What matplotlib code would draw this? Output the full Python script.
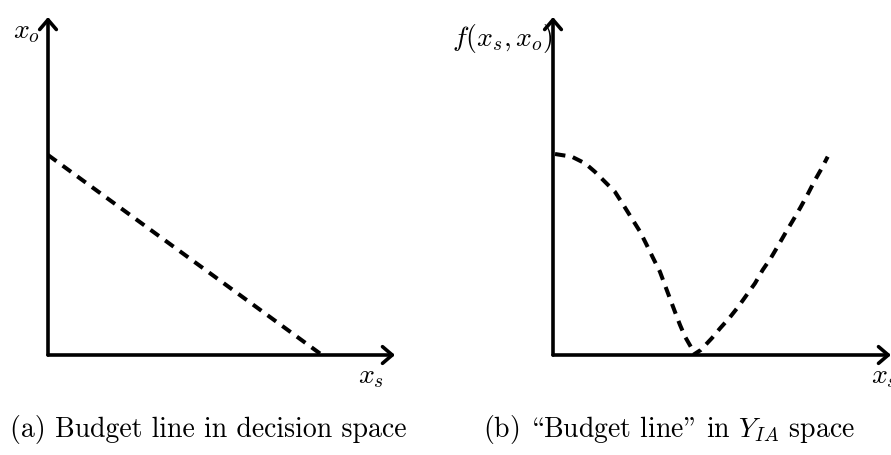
import numpy as np
import matplotlib.pyplot as plt

plt.rcParams['mathtext.fontset'] = 'cm'

# budget line in decision space (x_s, x_o)
budget_xs = [0.0, 8.18]
budget_xo = [5.97, 0.0]

# same budget line mapped to f(x_s, x_o)
curve_xs = [0.06, 0.56, 0.96, 1.25, 1.55, 1.85, 2.10, 2.35, 2.60, 2.80, 2.99,
            3.19, 3.34, 3.49, 3.64, 3.79, 3.94, 4.14, 4.18,
            4.41, 4.74, 4.99, 5.26, 5.53, 5.78, 6.03, 6.26, 6.50, 6.73,
            6.96, 7.17, 7.39, 7.62, 7.82, 8.02, 8.20]
curve_f = [6.00, 5.92, 5.72, 5.47, 5.17, 4.87, 4.48, 4.08, 3.68, 3.28, 2.89,
           2.49, 2.09, 1.69, 1.29, 0.90, 0.55, 0.20, 0.0,
           0.15, 0.50, 0.80, 1.10, 1.44, 1.79, 2.14, 2.54, 2.89, 3.28,
           3.68, 4.03, 4.41, 4.83, 5.22, 5.57, 5.92]

# cmr10 is OT1 encoded: '\' gives the opening double quote, '"' the closing one
captions = ["(a) Budget line in decision space",
            "(b) \\Budget line\" in $Y_{IA}$ space"]

W, H = 891, 455
PX = 33.5  # pixels per data unit

fig = plt.figure(figsize=(W / 100, H / 100), dpi=100)


def make_axes(x0, y0, w, h):
    ax = fig.add_axes([x0 / W, 1 - y0 / H, w / W, h / H])
    ax.set_xlim(0, w / PX)
    ax.set_ylim(0, h / PX)
    ax.axis('off')
    arrow = dict(arrowstyle='->,head_length=0.7,head_width=0.6', lw=2.6,
                 color='black', shrinkA=0, shrinkB=0)
    ax.annotate('', xy=(1, 0), xytext=(0, 0), xycoords='axes fraction',
                arrowprops=arrow, annotation_clip=False)
    ax.annotate('', xy=(0, 1), xytext=(0, 0), xycoords='axes fraction',
                arrowprops=arrow, annotation_clip=False)
    return ax


dash = dict(color='black', lw=2.9, ls=(0, (2.6, 1.9)), solid_joinstyle='round')

ax1 = make_axes(48, 355, 347, 338)
ax1.plot(budget_xs, budget_xo, **dash)
ax1.text(-0.022, 0.96, '$x_o$', transform=ax1.transAxes, ha='right', va='center', fontsize=20)
ax1.text(0.93, -0.062, '$x_s$', transform=ax1.transAxes, ha='center', va='center', fontsize=20)

ax2 = make_axes(553, 355, 338, 338)
ax2.plot(curve_xs, curve_f, **dash)
ax2.text(0.0, 0.935, '$f(x_s,x_o)$', transform=ax2.transAxes, ha='right', va='center', fontsize=20)
ax2.text(0.98, -0.062, '$x_s$', transform=ax2.transAxes, ha='center', va='center', fontsize=20)

fig.text(208 / W, 1 - 430 / H, captions[0], ha='center', va='center',
         fontsize=20, family=['cmr10', 'DejaVu Serif'])
fig.text(669 / W, 1 - 430 / H, captions[1], ha='center', va='center',
         fontsize=20, family=['cmr10', 'DejaVu Serif'])

fig.savefig('out.png', dpi=100)
